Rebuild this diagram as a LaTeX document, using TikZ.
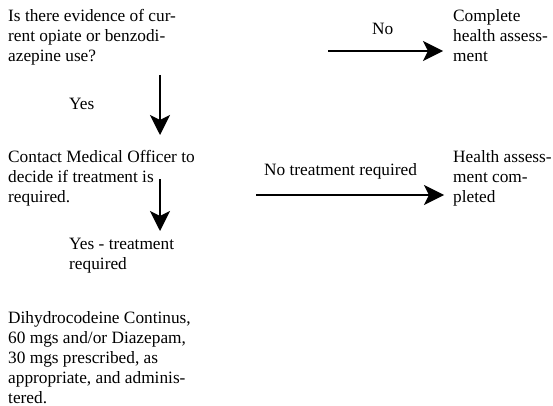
\documentclass[tikz,border=0pt]{standalone}
\usepackage{fontspec}
\setmainfont{Liberation Serif}
\usetikzlibrary{positioning,arrows.meta}

\begin{document}
\begin{tikzpicture}[x=1pt,y=-1pt,
    box/.style={anchor=north west,inner sep=0pt,align=left,font=\fontsize{17.3}{20}\selectfont},
    arrow/.style={-{Stealth[length=20pt,width=20pt,inset=5pt]},line width=1.5pt}
    ]
    \useasboundingbox (0,0) rectangle (553,406);

    \node[box] (evidence) at (8,9) {Is there evidence of cur-\\rent opiate or benzodi-\\azepine use?};
    \node[box] (complete) at (453,9) {Complete\\health assess-\\ment};
    \node[box] (contact) at (8,150) {Contact Medical Officer to\\decide if treatment is\\required.};
    \node[box] (done) at (453,150) {Health assess-\\ment com-\\pleted};
    \node[box] (prescribe) at (8,311) {Dihydrocodeine Continus,\\60 mgs and/or Diazepam,\\30 mgs prescribed, as\\appropriate, and adminis-\\tered.};

    % labels beside the arrows
    \node[box] (yes) at (69,98) {Yes};
    \node[box] (no) at (372,23) {No};
    \node[box] (notreat) at (264,163) {No treatment required};
    \node[box] (yestreat) at (69,238) {Yes - treatment\\required};

    % free ends of the arrows
    \coordinate (yesS) at (160,75);
    \coordinate (yesE) at (160,135);
    \coordinate (noS) at (328,51);
    \coordinate (noE) at (443,51);
    \coordinate (treatS) at (160,179);
    \coordinate (treatE) at (160,231);
    \coordinate (notreatS) at (256,195);
    \coordinate (notreatE) at (444,195);

    \draw[arrow] (yesS) -- (yesE);
    \draw[arrow] (noS) -- (noE);
    \draw[arrow] (treatS) -- (treatE);
    \draw[arrow] (notreatS) -- (notreatE);

\end{tikzpicture}
\end{document}
